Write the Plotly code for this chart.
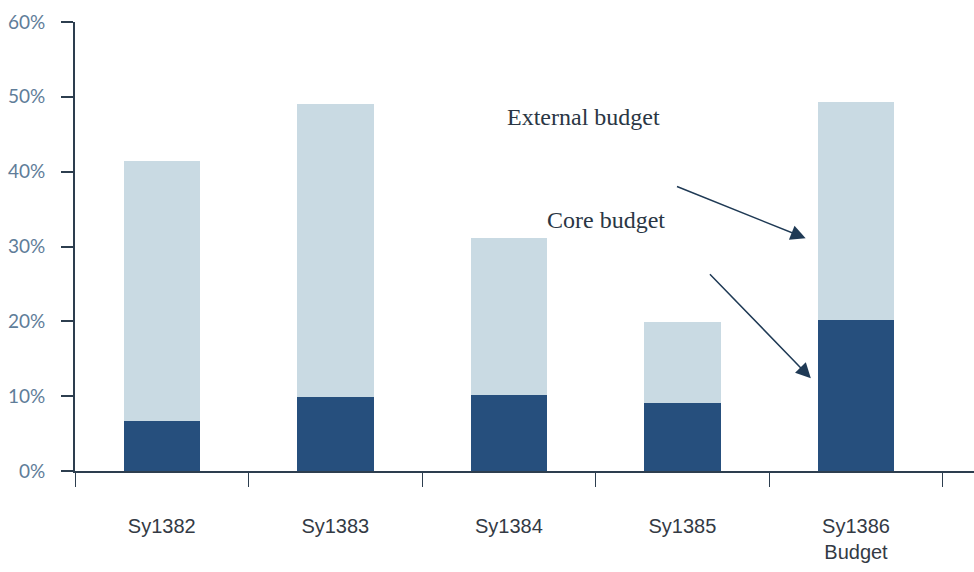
import plotly.graph_objects as go

categories = ["Sy1382", "Sy1383", "Sy1384", "Sy1385", "Sy1386<br>Budget"]
core_budget = [6.7, 9.9, 10.2, 9.1, 20.2]
total_budget = [41.4, 49.1, 31.1, 19.9, 49.3]
external_budget = [t - c for t, c in zip(total_budget, core_budget)]
y_ticks = [0, 10, 20, 30, 40, 50, 60]
y_tick_labels = [f"{v}%" for v in y_ticks]

CORE = "#264f7d"
EXTERNAL = "#c9dae3"
AXIS = "#2d3e4f"

fig = go.Figure()
fig.add_trace(go.Bar(x=categories, y=core_budget, name="Core budget",
                     marker=dict(color=CORE, line=dict(width=0)), width=0.44))
fig.add_trace(go.Bar(x=categories, y=external_budget, name="External budget",
                     marker=dict(color=EXTERNAL, line=dict(width=0)), width=0.44))

fig.update_layout(
    barmode="stack",
    width=974,
    height=572,
    margin=dict(l=75, r=0, t=22, b=101),
    paper_bgcolor="white",
    plot_bgcolor="white",
    showlegend=False,
    xaxis=dict(
        range=[-0.5, 4.68],
        showgrid=False,
        showline=True,
        linecolor=AXIS,
        linewidth=2,
        ticks="outside",
        tickson="boundaries",
        ticklen=14,
        tickcolor=AXIS,
        tickwidth=1,
        ticklabelstandoff=36,
        tickfont=dict(family="Liberation Sans", size=20, color="#333a44"),
    ),
    yaxis=dict(
        range=[0, 60],
        tickmode="array",
        tickvals=y_ticks,
        ticktext=y_tick_labels,
        showgrid=False,
        zeroline=False,
        showline=True,
        linecolor=AXIS,
        linewidth=2,
        ticks="outside",
        ticklen=12,
        tickcolor=AXIS,
        tickwidth=2,
        ticklabelstandoff=12,
        tickfont=dict(family="Lato", size=19, color="#5f7d99"),
    ),
)

text_font = dict(family="Liberation Serif", size=24, color="#2a3644")
fig.add_annotation(x=2.43, y=47.3, xref="x", yref="y", text="External budget",
                   showarrow=False, font=text_font)
fig.add_annotation(x=2.56, y=33.6, xref="x", yref="y", text="Core budget",
                   showarrow=False, font=text_font)

arrow = dict(xref="x", yref="y", axref="x", ayref="y", text="", showarrow=True,
             arrowhead=2, arrowsize=2, arrowwidth=1.5, arrowcolor="#1f3a55")
fig.add_annotation(x=3.71, y=31.1, ax=2.96, ay=38.1, **arrow)
fig.add_annotation(x=3.74, y=12.4, ax=3.15, ay=26.5, **arrow)

# page body has an 8px default margin; drop it so the plot sits at the window corner
fig.write_html("out.html", config={"displayModeBar": False},
               post_script="document.body.style.margin='0';")
